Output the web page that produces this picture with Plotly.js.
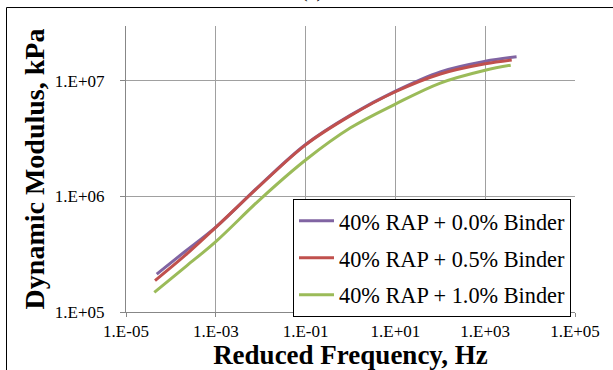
<!DOCTYPE html>
<html>
<head>
<meta charset="utf-8">
<script src="https://cdn.plot.ly/plotly-3.0.1.min.js"></script>
<style>html,body{margin:0;padding:0;background:#fff;}#chart{width:613px;height:370px;}</style>
</head>
<body>
<div id="chart"></div>
<script>
// Reduced frequency (Hz) and dynamic modulus (kPa)
var freq0 = [4.83e-5, 2.0e-4, 1e-3, 1e-2, 1e-1, 1, 10, 100, 1000, 5.0e3];
var mod0  = [2.13e5, 3.31e5, 5.43e5, 1.27e6, 2.82e6, 5.07e6, 8.17e6, 1.20e7, 1.48e7, 1.62e7];

var freq05 = [4.43e-5, 2.1e-4, 1e-3, 1e-2, 1e-1, 1, 10, 100, 1000, 3.9e3];
var mod05  = [1.87e5, 3.10e5, 5.40e5, 1.26e6, 2.80e6, 5.01e6, 8.07e6, 1.15e7, 1.41e7, 1.52e7];

var freq10 = [4.27e-5, 2.24e-4, 1e-3, 1e-2, 1e-1, 1, 10, 100, 1000, 3.7e3];
var mod10  = [1.48e5, 2.51e5, 4.07e5, 9.55e5, 2.07e6, 3.93e6, 6.31e6, 9.6e6, 1.24e7, 1.37e7];

var seriesNames = ['40% RAP + 0.0% Binder', '40% RAP + 0.5% Binder', '40% RAP + 1.0% Binder'];
var seriesColors = ['#8064A2', '#C0504D', '#9BBB59'];

var xTickVals = [1e-5, 1e-3, 1e-1, 1e1, 1e3, 1e5];
var xTickText = ['1.E-05', '1.E-03', '1.E-01', '1.E+01', '1.E+03', '1.E+05'];
var yTickVals = [1e5, 1e6, 1e7];
var yTickText = ['1.E+05', '1.E+06', '1.E+07'];
var panelLabel = '(a)';

var xs = [freq0, freq05, freq10];
var ys = [mod0, mod05, mod10];
var traces = xs.map(function (x, i) {
  return {
    x: x, y: ys[i], type: 'scatter', mode: 'lines',
    name: seriesNames[i], legendgroup: 'g' + i,
    line: {color: seriesColors[i], width: 3, shape: 'spline', smoothing: 1}
  };
});

var serif = 'Liberation Serif';
var L = 126, R = 575, T = 26, B = 312.3, W = 613, H = 370;
function px2x(p) { return (p - L) / (R - L); }
function py2y(p) { return (B - p) / (B - T); }

var layout = {
  width: W, height: H,
  margin: {l: L, r: W - R, t: T, b: H - B, pad: 0},
  paper_bgcolor: '#ffffff', plot_bgcolor: '#ffffff',
  showlegend: true,
  font: {family: serif, color: '#000'},
  xaxis: {
    type: 'log', range: [-5, 5],
    tickvals: xTickVals, ticktext: xTickText,
    tickfont: {family: serif, size: 17, color: '#000'},
    ticks: 'outside', ticklen: 4, tickcolor: '#878787', tickwidth: 1,
    ticklabelstandoff: 0,
    showgrid: true, gridcolor: '#A0A0A0', gridwidth: 1,
    showline: true, linecolor: '#878787', linewidth: 1,
    zeroline: false, fixedrange: true,
    title: {text: 'Reduced Frequency, Hz', standoff: 12,
            font: {family: serif, size: 27, weight: 'bold', color: '#000'}}
  },
  yaxis: {
    type: 'log', range: [5, 7.476],
    tickvals: yTickVals, ticktext: yTickText,
    tickfont: {family: serif, size: 17, color: '#000'},
    ticks: 'outside', ticklen: 5, tickcolor: '#878787', tickwidth: 1,
    ticklabelstandoff: 12,
    showgrid: true, gridcolor: '#A0A0A0', gridwidth: 1,
    showline: true, linecolor: '#878787', linewidth: 1,
    zeroline: false, fixedrange: true,
    title: {text: 'Dynamic Modulus, kPa', standoff: 2,
            font: {family: serif, size: 28, weight: 'bold', color: '#000'}}
  },
  legend: {
    x: px2x(293), xanchor: 'left', y: py2y(199), yanchor: 'top',
    bgcolor: '#ffffff', bordercolor: '#000000', borderwidth: 1,
    font: {family: serif, size: 22.3, color: '#000'},
    tracegroupgap: 5, traceorder: 'grouped', itemwidth: 35
  },
  annotations: [{
    text: panelLabel, showarrow: false,
    xref: 'paper', yref: 'paper', x: px2x(312), y: py2y(4),
    xanchor: 'center', yanchor: 'bottom',
    font: {family: serif, size: 20, color: '#000'}
  }],
  shapes: [{
    type: 'rect', xref: 'paper', yref: 'paper',
    x0: px2x(6.5), x1: px2x(700), y0: py2y(420), y1: py2y(7.5),
    line: {color: '#000000', width: 1}, fillcolor: 'rgba(0,0,0,0)', layer: 'above'
  }]
};

Plotly.newPlot('chart', traces, layout, {displayModeBar: false, staticPlot: true});
</script>
</body>
</html>
